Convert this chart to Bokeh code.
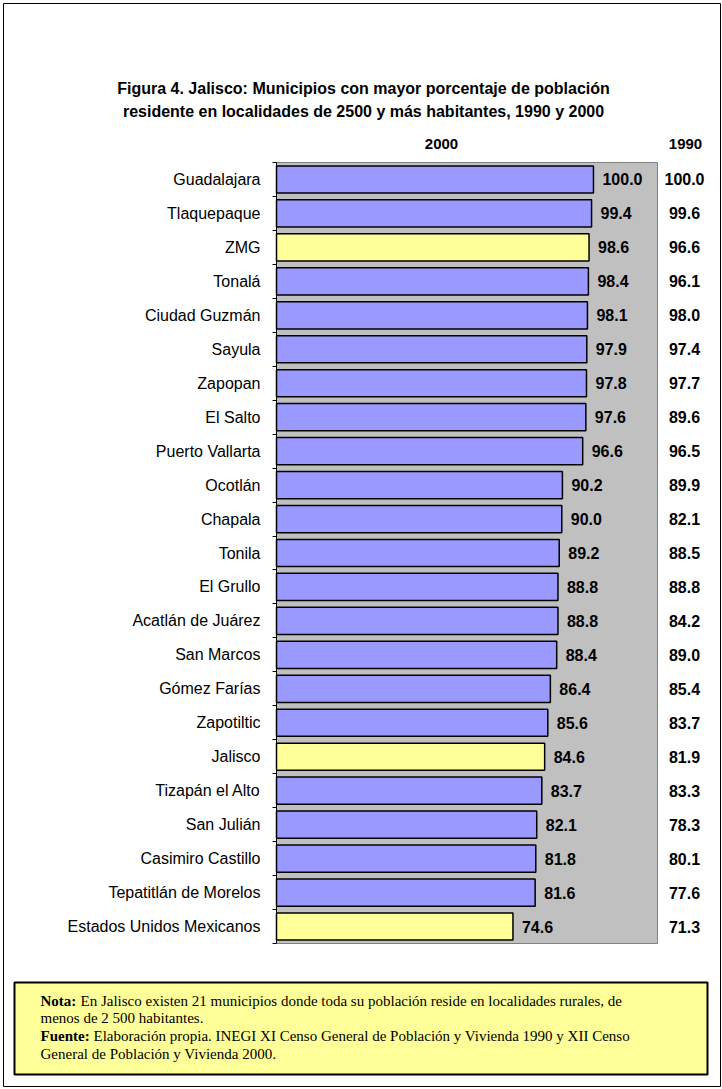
from bokeh.plotting import figure
from bokeh.models import ColumnDataSource, Range1d, FixedTicker, LinearAxis
from bokeh.core.properties import value
from bokeh.embed import file_html
from bokeh.resources import INLINE

# ---------------- data ----------------
categories = ["Guadalajara", "Tlaquepaque", "ZMG", "Tonalá", "Ciudad Guzmán", "Sayula",
              "Zapopan", "El Salto", "Puerto Vallarta", "Ocotlán", "Chapala", "Tonila",
              "El Grullo", "Acatlán de Juárez", "San Marcos", "Gómez Farías", "Zapotiltic",
              "Jalisco", "Tizapán el Alto", "San Julián", "Casimiro Castillo",
              "Tepatitlán de Morelos", "Estados Unidos Mexicanos"]
pct_2000 = [100.0, 99.4, 98.6, 98.4, 98.1, 97.9, 97.8, 97.6, 96.6, 90.2, 90.0, 89.2,
            88.8, 88.8, 88.4, 86.4, 85.6, 84.6, 83.7, 82.1, 81.8, 81.6, 74.6]
pct_1990 = [100.0, 99.6, 96.6, 96.1, 98.0, 97.4, 97.7, 89.6, 96.5, 89.9, 82.1, 88.5,
            88.8, 84.2, 89.0, 85.4, 83.7, 81.9, 83.3, 78.3, 80.1, 77.6, 71.3]
aggregates = ["ZMG", "Jalisco", "Estados Unidos Mexicanos"]
series_labels = ["2000", "1990"]
title_lines = ["Figura 4. Jalisco: Municipios con mayor porcentaje de población",
               "residente en localidades de 2500 y más habitantes, 1990 y 2000"]
note_head = ["Nota:", "Fuente:"]
note_lines = ["En Jalisco existen 21 municipios donde toda su población reside en localidades rurales, de",
              "menos de 2 500 habitantes.",
              "Elaboración propia. INEGI XI Censo General de Población y Vivienda 1990 y XII Censo",
              "General de Población y Vivienda 2000."]

# ---------------- layout (pixels -> chart units) ----------------
W, H = 722, 1089
FL, FR, FT, FB = 276, 657, 162, 943   # plot area in pixels
XMAX = 120.2
N = len(categories)

def dx(px):
    return XMAX * (px - FL) / (FR - FL)

def dy(py):
    return N * (FB - py) / (FB - FT)

ypos = [N - 0.5 - i for i in range(N)]
colors = ["#FFFF99" if c in aggregates else "#9999FF" for c in categories]

src = ColumnDataSource(dict(y=ypos, cat=categories, v2000=pct_2000, v1990=pct_1990,
                            t2000=["%.1f" % v for v in pct_2000],
                            t1990=["%.1f" % v for v in pct_1990],
                            color=colors))

p = figure(width=W, height=H, output_backend="svg", toolbar_location=None,
           x_range=Range1d(dx(0), dx(W)), y_range=Range1d(dy(H), dy(0)),
           x_axis_location=None, y_axis_location=None,
           min_border=0, min_border_left=0, min_border_right=0,
           min_border_top=0, min_border_bottom=0)
p.background_fill_color = "white"
p.border_fill_color = "white"
p.outline_line_color = None
p.xgrid.visible = False
p.ygrid.visible = False

SANS = value("Liberation Sans")
SERIF = value("Liberation Serif")

# outer frame
p.quad(left=dx(3), right=dx(720), top=dy(3), bottom=dy(1086),
       fill_color=None, line_color="black", line_width=1)

# plot area (grey)
p.quad(left=0, right=XMAX, bottom=0, top=N, fill_color="#C0C0C0",
       line_color="#808080", line_width=1)

# bars (2000)
p.hbar(y="y", left=0, right="v2000", height=0.8, source=src,
       fill_color="color", line_color="black", line_width=1.5)

# 2000 value labels
p.text(x="v2000", y="y", text="t2000", source=src, x_offset=9,
       text_align="left", text_baseline="middle", text_font=SANS,
       text_font_style="bold", text_font_size="16px", text_color="black")

# category axis placed at x = 0
ya = LinearAxis(fixed_location=0, bounds=(0, N))
ya.ticker = FixedTicker(ticks=ypos, minor_ticks=list(range(N + 1)))
ya.major_label_overrides = {y: c for y, c in zip(ypos, categories)}
ya.major_tick_out = 0
ya.major_tick_in = 0
ya.minor_tick_out = 4
ya.minor_tick_in = 0
ya.minor_tick_line_color = "black"
ya.axis_line_color = "black"
ya.major_label_standoff = 12
ya.major_label_text_font = "Liberation Sans"
ya.major_label_text_font_size = "16px"
ya.major_label_text_color = "black"
p.add_layout(ya, "left")

# 1990 value column
p.text(x=dx(684), y="y", text="t1990", source=src,
       text_align="center", text_baseline="middle", text_font=SANS,
       text_font_style="bold", text_font_size="16px", text_color="black")

# column headers
p.text(x=[dx(441), dx(685)], y=[dy(143), dy(143)], text=series_labels,
       text_align="center", text_baseline="middle", text_font=SANS,
       text_font_style="bold", text_font_size="15px", text_color="black")

# title
p.text(x=[dx(363), dx(363)], y=[dy(88), dy(111)], text=title_lines,
       text_align="center", text_baseline="middle", text_font=SANS,
       text_font_style="bold", text_font_size="16px", text_color="black")

# note box
p.quad(left=dx(14), right=dx(707), top=dy(982), bottom=dy(1074),
       fill_color="#FFFF99", line_color="black", line_width=2)

note_y = [1000, 1017, 1035, 1053]
p.text(x=[dx(40), dx(40)], y=[dy(note_y[0]), dy(note_y[2])], text=note_head,
       text_align="left", text_baseline="middle", text_font=SERIF,
       text_font_style="bold", text_font_size="15px", text_color="black")
note_x = [80, 40, 93, 40]
p.text(x=[dx(v) for v in note_x], y=[dy(v) for v in note_y], text=note_lines,
       text_align="left", text_baseline="middle", text_font=SERIF,
       text_font_size="15px", text_color="black")

open("out.html", "w").write(file_html(p, INLINE))
